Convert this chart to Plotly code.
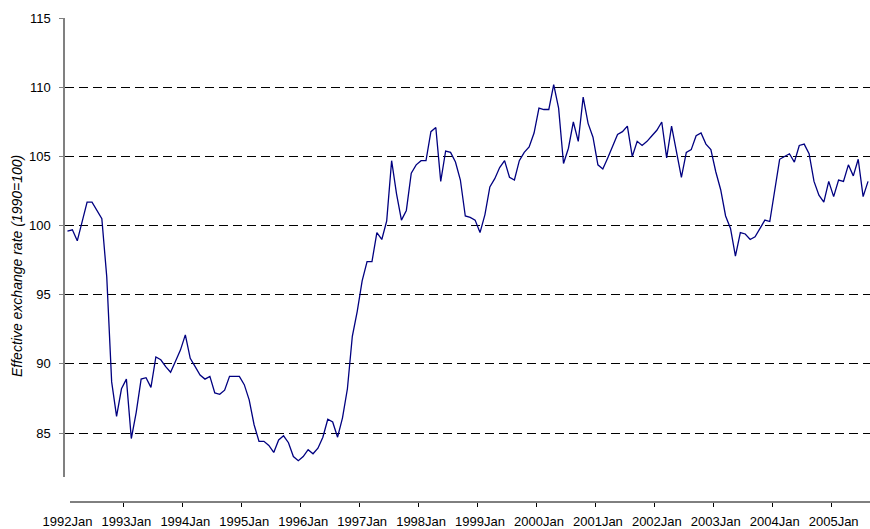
import plotly.graph_objects as go

# Monthly effective exchange rate index (1990=100), Jan 1992 - Aug 2005
years = list(range(1992, 2006))
month_names = ["Jan", "Feb", "Mar", "Apr", "May", "Jun", "Jul", "Aug", "Sep", "Oct", "Nov", "Dec"]

values = [
    99.6, 99.7, 98.9, 100.4, 101.7, 101.7, 101.1, 100.5, 96.3, 88.7, 86.2, 88.2,   # 1992
    88.9, 84.6, 86.5, 88.9, 89.0, 88.3, 90.5, 90.3, 89.8, 89.4, 90.2, 91.0,       # 1993
    92.1, 90.4, 89.8, 89.2, 88.9, 89.1, 87.9, 87.8, 88.1, 89.1, 89.1, 89.1,       # 1994
    88.5, 87.4, 85.6, 84.4, 84.4, 84.1, 83.6, 84.5, 84.8, 84.3, 83.3, 83.0,       # 1995
    83.3, 83.8, 83.5, 83.9, 84.7, 86.0, 85.8, 84.7, 86.1, 88.2, 92.0, 93.8,       # 1996
    96.0, 97.4, 97.4, 99.5, 99.0, 100.35, 104.7, 102.3, 100.4, 101.1, 103.8, 104.4,  # 1997
    104.7, 104.7, 106.8, 107.1, 103.2, 105.4, 105.3, 104.6, 103.3, 100.7, 100.6, 100.4,  # 1998
    99.5, 100.8, 102.8, 103.4, 104.2, 104.7, 103.5, 103.3, 104.7, 105.3, 105.7, 106.7,  # 1999
    108.5, 108.4, 108.4, 110.2, 108.5, 104.5, 105.6, 107.5, 106.1, 109.3, 107.4, 106.4,  # 2000
    104.4, 104.1, 104.9, 105.7, 106.6, 106.8, 107.2, 105.0, 106.1, 105.8, 106.1, 106.5,  # 2001
    106.9, 107.5, 104.9, 107.2, 105.3, 103.5, 105.3, 105.5, 106.5, 106.7, 105.9, 105.5,  # 2002
    103.9, 102.6, 100.7, 99.8, 97.8, 99.5, 99.4, 99.0, 99.2, 99.8, 100.4, 100.3,   # 2003
    102.6, 104.8, 105.0, 105.2, 104.6, 105.8, 105.9, 105.2, 103.2, 102.2, 101.7, 103.2,  # 2004
    102.1, 103.3, 103.2, 104.4, 103.6, 104.8, 102.1, 103.2,                         # 2005
]

months = [f"{y}{m}" for y in years for m in month_names][:len(values)]
idx = list(range(len(values)))

tick_labels = [f"{y}Jan" for y in years]
tick_positions = [months.index(t) for t in tick_labels]
boundary_ticks = [p - 0.5 for p in tick_positions[1:]]

y_ticks = [85, 90, 95, 100, 105, 110, 115]

FONT = "Arial, Liberation Sans, sans-serif"

fig = go.Figure()
fig.add_trace(go.Scatter(
    x=idx, y=values, mode="lines",
    line=dict(color="#000080", width=1.3),
    text=months, hovertemplate="%{text}: %{y}<extra></extra>",
    showlegend=False,
))

plot_top, plot_bottom, y_axis_bottom = 18, 502, 477
H = 529
W = 870
left = 65
plot_h = plot_bottom - plot_top
plot_w = W - left

fig.update_layout(
    width=W, height=H,
    margin=dict(l=left, r=0, t=plot_top, b=H - plot_bottom, pad=0, autoexpand=False),
    paper_bgcolor="white", plot_bgcolor="white",
    font=dict(family=FONT, size=13, color="black"),
    xaxis=dict(
        range=[-0.5, 163.4],
        anchor="free", position=0, automargin=False,
        showgrid=False, zeroline=False, showline=False,
        tickmode="array", tickvals=tick_positions, ticktext=tick_labels,
        ticks="", ticklen=0, ticklabelstandoff=10,
        tickfont=dict(family=FONT, size=13, color="black"),
        minor=dict(tickmode="array", tickvals=boundary_ticks, ticks="outside",
                   ticklen=4, tickcolor="black", tickwidth=1, showgrid=False),
    ),
    yaxis=dict(
        range=[81.82, 115.02], automargin=False,
        domain=[(plot_bottom - y_axis_bottom) / plot_h, 1],
        tickmode="array", tickvals=y_ticks,
        showgrid=True, gridcolor="black", gridwidth=1, griddash="9px,5px",
        zeroline=False,
        showline=True, linecolor="#808080", linewidth=1.5,
        ticks="outside", ticklen=4, tickcolor="#808080",
        ticklabelstandoff=6,
        tickfont=dict(family=FONT, size=13, color="black"),
    ),
    shapes=[dict(
        type="line", xref="paper", yref="paper",
        x0=(70 - left) / plot_w, x1=1, y0=0, y1=0,
        line=dict(color="black", width=1),
    )],
    annotations=[dict(
        text="<i>Effective exchange rate (1990=100)</i>",
        xref="paper", yref="paper",
        x=(17 - left) / plot_w, y=(plot_bottom - 266) / plot_h,
        xanchor="center", yanchor="middle",
        textangle=-90, showarrow=False,
        font=dict(family=FONT, size=14, color="black"),
    )],
)

fig.write_html(
    "out.html",
    config={"displayModeBar": False},
    post_script="document.body.style.margin='0';document.body.style.overflow='hidden';",
)
